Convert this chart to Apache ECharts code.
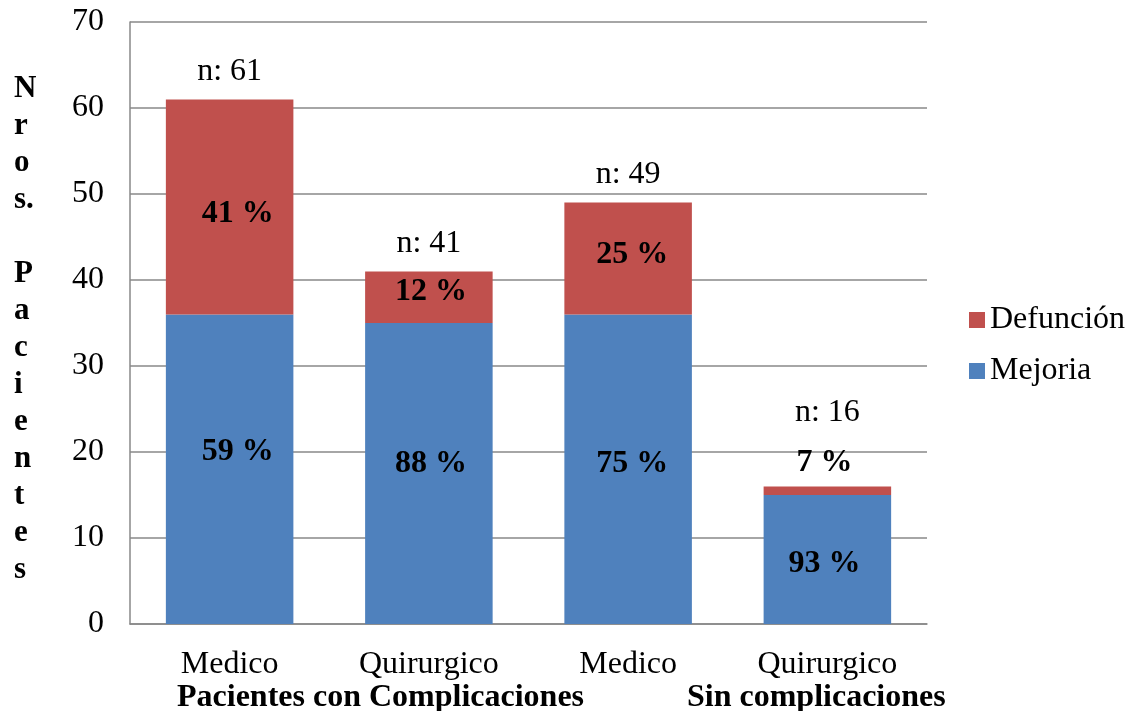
<!DOCTYPE html>
<html>
<head>
<meta charset="utf-8">
<script src="https://cdn.jsdelivr.net/npm/echarts@6/dist/echarts.min.js"></script>
<style>
  html, body { margin: 0; padding: 0; background: #fff; }
  #chart { width: 1132px; height: 711px; }
</style>
</head>
<body>
<div id="chart"></div>
<script>
// Patients by treatment type: outcome counts
const categories = ['Medico', 'Quirurgico', 'Medico', 'Quirurgico'];
const mejoria = [36, 35, 36, 15];
const defuncion = [25, 6, 13, 1];
const pctMejoria = ['59 %', '88 %', '75 %', '93 %'];
const pctDefuncion = ['41 %', '12 %', '25 %', '7 %'];
const groupLabels = ['Pacientes con Complicaciones', 'Sin complicaciones'];
const yTitle = 'N\nr\no\ns.\n\nP\na\nc\ni\ne\nn\nt\ne\ns';
const yTicks = [0, 10, 20, 30, 40, 50, 60, 70];

const totals = mejoria.map((v, i) => v + defuncion[i]);

// label nudges (pixels) for readability
const shiftX = [8, 2, 4, -3];
const mejoriaShift = [-17, -10, -5, 4];
const defuncionShift = [7, -5, -4, -28];
const totalShift = [0, 0, 0, -46];

const FONT = '"Liberation Serif", "Times New Roman", serif';
const FS = 32;
const chart = echarts.init(document.getElementById('chart'));

const pctLabel = (texts, shifts) => (v, i) => ({
  value: v,
  label: { formatter: texts[i], offset: [shiftX[i], shifts[i]] }
});

chart.setOption({
  animation: false,
  textStyle: { fontFamily: FONT },
  grid: { left: 130, right: 205, top: 22, bottom: 87, containLabel: false },
  legend: {
    data: ['Defunción', 'Mejoria'],
    orient: 'vertical',
    left: 969,
    top: 304,
    padding: 0,
    itemWidth: 16,
    itemHeight: 16,
    itemGap: 19,
    icon: 'rect',
    textStyle: { fontFamily: FONT, fontSize: FS, color: '#000' }
  },
  xAxis: {
    type: 'category',
    data: categories,
    axisLine: { lineStyle: { color: '#888888', width: 1.5 } },
    axisTick: { show: false },
    axisLabel: { fontFamily: FONT, fontSize: FS, color: '#000', margin: 25 }
  },
  yAxis: {
    type: 'value',
    min: yTicks[0],
    max: yTicks[yTicks.length - 1],
    interval: 10,
    axisLine: { show: true, lineStyle: { color: '#888888', width: 1.5 } },
    axisTick: { show: false },
    splitLine: { lineStyle: { color: '#888888', width: 1.5 } },
    axisLabel: { fontFamily: FONT, fontSize: FS, color: '#000', margin: 26 }
  },
  series: [
    {
      name: 'Mejoria',
      type: 'bar',
      stack: 'total',
      barCategoryGap: '36%',
      itemStyle: { color: '#4F81BD' },
      label: {
        show: true, position: 'inside',
        fontFamily: FONT, fontSize: FS, fontWeight: 'bold', color: '#000'
      },
      data: mejoria.map(pctLabel(pctMejoria, mejoriaShift))
    },
    {
      name: 'Defunción',
      type: 'bar',
      stack: 'total',
      itemStyle: { color: '#C0504D' },
      label: {
        show: true, position: 'inside',
        fontFamily: FONT, fontSize: FS, fontWeight: 'bold', color: '#000'
      },
      data: defuncion.map(pctLabel(pctDefuncion, defuncionShift))
    },
    {
      name: 'n',
      type: 'bar',
      stack: 'total',
      itemStyle: { color: 'transparent' },
      label: {
        show: true, position: 'top', distance: 12,
        fontFamily: FONT, fontSize: FS, color: '#000'
      },
      data: totals.map((t, i) => ({
        value: 0,
        label: { formatter: 'n: ' + t, offset: [0, totalShift[i]] }
      }))
    }
  ],
  graphic: [
    {
      type: 'text', left: 14, top: 70,
      style: { text: yTitle, font: 'bold 31px ' + FONT, lineHeight: 37, fill: '#000' }
    },
    {
      type: 'text', left: 177, top: 682,
      style: { text: groupLabels[0], font: 'bold 32px ' + FONT, fill: '#000' }
    },
    {
      type: 'text', left: 687, top: 682,
      style: { text: groupLabels[1], font: 'bold 32px ' + FONT, fill: '#000' }
    }
  ]
});
</script>
</body>
</html>
